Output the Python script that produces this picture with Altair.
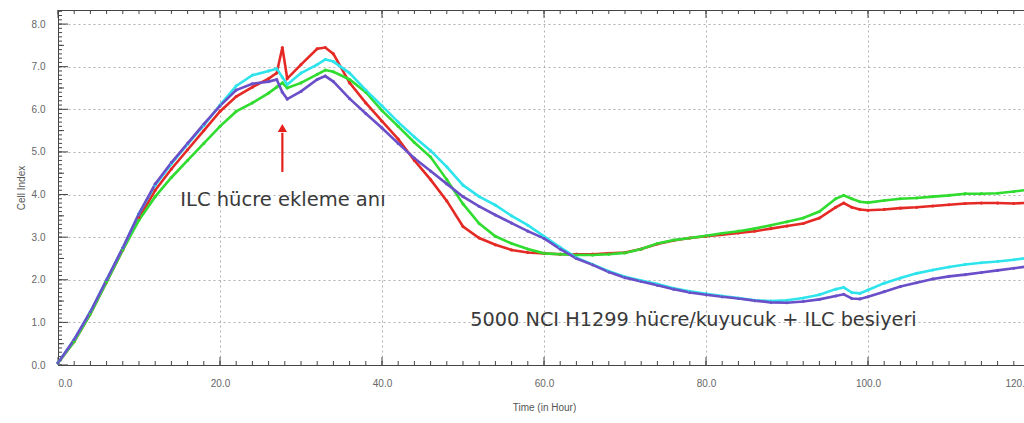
import altair as alt
import pandas as pd

# ---- data ----
T = [0, 2, 4, 6, 8, 10, 12, 14, 16, 18, 20, 22, 24, 26,
     27, 27.7, 28.3,
     30, 32, 33, 34,
     36, 38, 40, 42, 44, 46, 48, 50, 52, 54, 56, 58, 60, 62, 64, 66, 68, 70, 72, 74,
     76, 78, 80, 82, 84, 86, 88, 90, 92, 94, 96,
     97, 98, 99,
     100, 102, 104, 106, 108, 110, 112, 114, 116, 118, 120]

red = [0.05, 0.55, 1.2, 1.95, 2.7, 3.45, 4.1, 4.6, 5.05, 5.5, 5.95, 6.3, 6.52, 6.72,
       6.85, 7.45, 6.72,
       7.05, 7.42, 7.45, 7.3,
       6.62, 6.15, 5.72, 5.3, 4.8, 4.35, 3.85, 3.25, 2.98, 2.82, 2.7, 2.64, 2.62, 2.6, 2.6, 2.6, 2.62, 2.64, 2.72, 2.84,
       2.92, 2.98, 3.02, 3.06, 3.1, 3.14, 3.2, 3.26, 3.32, 3.45, 3.7,
       3.8, 3.7, 3.65,
       3.63, 3.65, 3.68, 3.7, 3.73, 3.76, 3.79, 3.8, 3.8, 3.79, 3.81]

green = [0.05, 0.55, 1.2, 1.95, 2.7, 3.4, 3.95, 4.4, 4.8, 5.2, 5.6, 5.95, 6.15, 6.38,
         6.52, 6.62, 6.5,
         6.62, 6.82, 6.92, 6.88,
         6.7, 6.4, 5.97, 5.6, 5.22, 4.88, 4.35, 3.78, 3.32, 3.02, 2.85, 2.72, 2.62, 2.6, 2.58, 2.58, 2.6, 2.63, 2.72, 2.85,
         2.93, 2.98, 3.03, 3.09, 3.14, 3.2, 3.28, 3.36, 3.45, 3.6, 3.9,
         3.98, 3.9, 3.83,
         3.81, 3.86, 3.9, 3.92, 3.95, 3.98, 4.02, 4.02, 4.03, 4.07, 4.12]

cyan = [0.05, 0.6, 1.25, 2.0, 2.75, 3.55, 4.22, 4.72, 5.18, 5.62, 6.1, 6.55, 6.8, 6.9,
        6.95, 6.75, 6.58,
        6.85, 7.05, 7.17, 7.12,
        6.85, 6.45, 6.08, 5.7, 5.35, 5.03, 4.65, 4.22, 3.95, 3.75, 3.5, 3.28, 3.02, 2.76, 2.52, 2.36, 2.2, 2.07, 1.98, 1.9,
        1.8, 1.73, 1.67, 1.62, 1.57, 1.52, 1.5, 1.52, 1.57, 1.65, 1.78,
        1.82, 1.7, 1.68,
        1.76, 1.92, 2.04, 2.15, 2.23, 2.3, 2.36, 2.4, 2.43, 2.47, 2.52]

purple = [0.05, 0.6, 1.25, 2.0, 2.75, 3.55, 4.25, 4.75, 5.2, 5.65, 6.08, 6.45, 6.6, 6.65,
          6.7, 6.4, 6.24,
          6.42, 6.7, 6.78, 6.65,
          6.25, 5.9, 5.56, 5.2, 4.85, 4.55, 4.25, 3.95, 3.72, 3.52, 3.33, 3.14, 2.97, 2.72, 2.5, 2.35, 2.18, 2.05, 1.96, 1.87,
          1.78, 1.7, 1.65, 1.6, 1.56, 1.51, 1.47, 1.46, 1.49, 1.54, 1.62,
          1.66, 1.56, 1.55,
          1.6, 1.72, 1.84, 1.93, 2.02, 2.08, 2.12, 2.17, 2.22, 2.27, 2.32]

series_names = ["red", "green", "cyan", "purple"]
series_colors = ["#e52a26", "#2fdc2f", "#2ee4ec", "#6a4fc9"]
series_values = [red, green, cyan, purple]

x_labels = [0, 20, 40, 60, 80, 100, 120]
y_labels = [0, 1, 2, 3, 4, 5, 6, 7, 8]
x_minor = [t for t in range(0, 122, 2)]
y_minor = [round(i * 0.1, 1) for i in range(0, 84)]
y_mid = [0.5, 1.5, 2.5, 3.5, 4.5, 5.5, 6.5, 7.5]

ann1_text = ["ILC hücre ekleme anı"]
ann1_pos = [15.1, 3.87]
ann2_text = ["5000 NCI H1299 hücre/kuyucuk + ILC besiyeri"]
ann2_pos = [50.9, 1.06]
arrow_t = [27.7]
arrow_from = [4.53]
arrow_to = [5.45]
arrow_head = [5.56]

# ---- build tables ----
rows = []
for name, vals in zip(series_names, series_values):
    for t, v in zip(T, vals):
        rows.append({"t": t, "v": v, "s": name})
df = pd.DataFrame(rows)

W, H = 966, 355
xs = alt.Scale(domain=[0, 120], range=[0, 972], nice=False, zero=False)
ys = alt.Scale(domain=[0, 8.33], nice=False, zero=False)

color = alt.Color("s:N", scale=alt.Scale(domain=series_names, range=series_colors), legend=None,
                  sort=series_names)

lines = alt.Chart(df).mark_line(strokeWidth=2.6, point=alt.OverlayMarkDef(size=10, filled=True, opacity=1)).encode(
    x=alt.X("t:Q", scale=xs,
            axis=alt.Axis(values=x_labels, format=".1f", grid=True, gridDash=[2, 3], gridColor="#b0b0b0",
                          ticks=False, labelPadding=13, labelColor="#666", labelFontSize=10,
                          labelFont="Liberation Sans", domainColor="#444",
                          title="Time (in Hour)", titleFont="Liberation Sans", titleFontSize=10,
                          titleFontWeight="normal", titleColor="#555", titlePadding=14)),
    y=alt.Y("v:Q", scale=ys,
            axis=alt.Axis(values=y_labels, format=".1f", grid=True, gridDash=[2, 3], gridColor="#b0b0b0",
                          ticks=False, labelPadding=13, labelColor="#666", labelFontSize=10,
                          labelFont="Liberation Sans", domainColor="#444",
                          title="Cell Index", titleFont="Liberation Sans", titleFontSize=10,
                          titleFontWeight="normal", titleColor="#555", titlePadding=5)),
    color=color,
    order=alt.Order("t:Q"),
    detail="s:N",
)

def yticks(vals, length):
    d = pd.DataFrame({"v": vals})
    return alt.Chart(d).mark_rule(color="#444", strokeWidth=1).encode(
        y=alt.Y("v:Q", scale=ys), x=alt.value(0), x2=alt.value(length))

def xticks_bottom(vals, length):
    d = pd.DataFrame({"t": vals})
    return alt.Chart(d).mark_rule(color="#444", strokeWidth=1).encode(
        x=alt.X("t:Q", scale=xs), y=alt.value(H), y2=alt.value(H - length))

def xticks_top(vals, length):
    d = pd.DataFrame({"t": vals})
    return alt.Chart(d).mark_rule(color="#444", strokeWidth=1).encode(
        x=alt.X("t:Q", scale=xs), y=alt.value(0), y2=alt.value(length))

ticks = [
    yticks(y_minor, 4), yticks(y_mid, 6), yticks(y_labels, 10),
    xticks_bottom(x_minor, 4), xticks_bottom(x_labels, 8),
    xticks_top(x_minor, 4), xticks_top(x_labels, 8),
]

arrow_df = pd.DataFrame({"t": arrow_t, "a": arrow_from, "b": arrow_to, "h": arrow_head})
arrow_shaft = alt.Chart(arrow_df).mark_rule(color="#e5201c", strokeWidth=2.2).encode(
    x=alt.X("t:Q", scale=xs), y=alt.Y("a:Q", scale=ys), y2="b:Q")
arrow_tip = alt.Chart(arrow_df).mark_point(shape="triangle-up", filled=True, color="#e5201c",
                                           size=85, opacity=1).encode(
    x=alt.X("t:Q", scale=xs), y=alt.Y("h:Q", scale=ys))

t1 = pd.DataFrame({"t": [ann1_pos[0]], "v": [ann1_pos[1]], "txt": ann1_text})
t2 = pd.DataFrame({"t": [ann2_pos[0]], "v": [ann2_pos[1]], "txt": ann2_text})
text1 = alt.Chart(t1).mark_text(align="left", baseline="middle", font="DejaVu Sans", fontSize=19.5,
                                color="#3a3a3a").encode(
    x=alt.X("t:Q", scale=xs), y=alt.Y("v:Q", scale=ys), text="txt:N")
text2 = alt.Chart(t2).mark_text(align="left", baseline="middle", font="DejaVu Sans", fontSize=19.3,
                                color="#3a3a3a").encode(
    x=alt.X("t:Q", scale=xs), y=alt.Y("v:Q", scale=ys), text="txt:N")

chart = alt.layer(*ticks, lines, arrow_shaft, arrow_tip, text1, text2).properties(
    width=W, height=H,
    autosize=alt.AutoSizeParams(type="none"),
    padding={"left": 58, "top": 10, "right": 0, "bottom": 58},
    background="white",
).configure_view(stroke="#444", strokeWidth=1)

chart.save("out.html", embed_options={"renderer": "svg", "actions": False})
